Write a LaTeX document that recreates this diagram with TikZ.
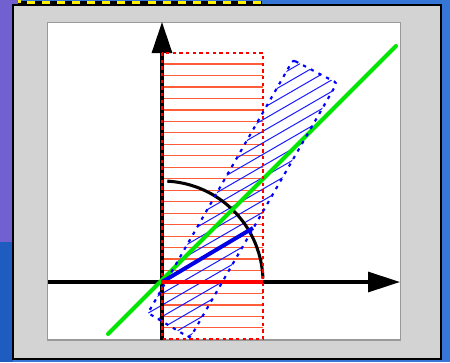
\documentclass[tikz,border=0pt]{standalone}
\usetikzlibrary{arrows.meta}
\definecolor{bgblue}{HTML}{3676D6}
\definecolor{bgpurple}{HTML}{7060D0}
\definecolor{bgdark}{HTML}{1F5CBF}
\definecolor{framegray}{HTML}{D3D3D3}
\definecolor{panelgray}{HTML}{999999}
\definecolor{stripecol}{HTML}{FF5C3A}
\definecolor{hatchcol}{HTML}{1A1AFF}
\definecolor{greencol}{HTML}{00E600}
\definecolor{yellowcol}{HTML}{FFF200}
\tikzset{
  stripe/.style={stripecol, line width=0.9pt},
  hatchline/.style={hatchcol, line width=0.75pt},
  axisline/.style={black, line width=2.3pt},
}
\begin{document}
\begin{tikzpicture}[x=0.75pt,y=-0.75pt]
\useasboundingbox (0,0) rectangle (450,362);
% background
\fill[bgblue] (0,0) rectangle (450,362);
\fill[bgpurple] (0,0) rectangle (13,242);
\fill[bgpurple] (0,0) rectangle (20,4);
\fill[bgdark] (0,242) rectangle (13,362);
% yellow/black dashed strip
\fill[black] (18,1) rectangle (262,5);
\fill[yellowcol] (18,0) rectangle (21,3);
\foreach \i in {0,...,15} \fill[yellowcol] ({27+15.07*\i},1.2) rectangle ++(8,3);
% frame
\filldraw[fill=framegray, draw=black, line width=1.5pt] (12.75,4.75) rectangle (441,358.75);
% panel
\filldraw[fill=white, draw=panelgray, line width=1.1pt] (47.75,22.75) rectangle (400.75,340);
\coordinate (O) at (162,282);
% red stripes
\foreach \j in {1,...,19} \draw[stripe] (162,{282-11.47*\j}) -- (263,{282-11.47*\j});
\foreach \j in {1,...,4} \draw[stripe] (162,{282+11.47*\j}) -- (263,{282+11.47*\j});
% blue hatch
\begin{scope}
\clip (293,60) -- (337,83) -- (190,338) -- (148,313) -- cycle;
\foreach \k in {-13,...,7} \draw[hatchline] ({162+5*\k-346},{282+8.66*\k+200}) -- ++(692,-400);
\end{scope}
% axes
\coordinate (xs) at (48,282);
\coordinate (xe) at (400,282);
\coordinate (ys) at (162,340);
\coordinate (ye) at (162,22);
\draw[axisline, -{Triangle[length=24pt,width=15pt]}] (xs) -- (xe);
\draw[axisline, -{Triangle[length=23.25pt,width=15pt]}] (ys) -- (ye);
% arc
\draw[black, line width=2.3pt] plot[domain=2:87, samples=50] ({162+101*cos(\x)},{282-101*sin(\x)});
% green line
\coordinate (g1) at (108,334);
\coordinate (g2) at (396,46);
\draw[greencol, line width=3pt, line cap=round] (g1) -- (g2);
% blue thick line
\coordinate (b1) at (253,228);
\draw[blue!90!black, line width=3pt] (O) -- (b1);
% red thick line
\coordinate (r1) at (263,282);
\draw[red, line width=2.3pt] (O) -- (r1);
% red dashed rectangle
\draw[red, line width=1.1pt, dash pattern=on 2.5pt off 2.5pt] (162,53) rectangle (263,339);
% blue dashed outline
\draw[blue, line width=1.6pt, dash pattern=on 2.5pt off 4pt, rounded corners=2pt] (293,60) -- (337,83) -- (190,338) -- (148,313) -- cycle;
\end{tikzpicture}
\end{document}
